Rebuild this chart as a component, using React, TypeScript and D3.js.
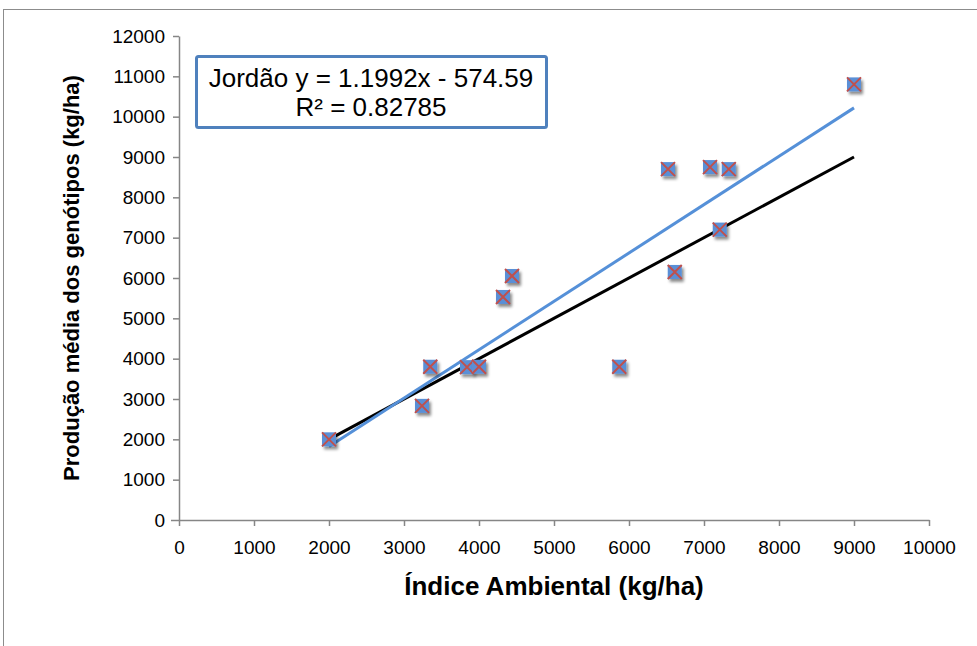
import React, { useRef, useEffect } from "react";
import * as d3 from "d3";

// Índice ambiental (x) e produção média (y), kg/ha
const indiceAmbiental = [2000, 3240, 3350, 3840, 4000, 4320, 4440, 5870, 6520, 6610, 7080, 7210, 7330, 9000];
const producaoMedia = [2000, 2830, 3800, 3790, 3800, 5530, 6050, 3800, 8700, 6150, 8750, 7200, 8700, 10800];

// linha 1:1 (preta) e tendência linear (azul)
const lineRange = [2000, 9000];
const slope = 1.1992;
const intercept = -574.59;
const legendLines = ["Jordão y = 1.1992x - 574.59", "R² = 0.82785"];

const xTicks = [0, 1000, 2000, 3000, 4000, 5000, 6000, 7000, 8000, 9000, 10000];
const yTicks = [0, 1000, 2000, 3000, 4000, 5000, 6000, 7000, 8000, 9000, 10000, 11000, 12000];

const W = 977;
const H = 646;
const FONT = "'Liberation Sans', Arial, sans-serif";

export default function App() {
  const svgRef = useRef<SVGSVGElement>(null);

  useEffect(() => {
    const svg = d3.select(svgRef.current);
    svg.selectAll("*").remove();

    const x = d3.scaleLinear().domain([0, 10000]).range([179, 929]);
    const y = d3.scaleLinear().domain([0, 12000]).range([520, 36]);
    const fmt = d3.format("d");

    const defs = svg.append("defs");
    const f = defs
      .append("filter")
      .attr("id", "shadow")
      .attr("x", "-50%")
      .attr("y", "-50%")
      .attr("width", "200%")
      .attr("height", "200%");
    f.append("feDropShadow")
      .attr("dx", 2)
      .attr("dy", 3)
      .attr("stdDeviation", 1.6)
      .attr("flood-color", "#000")
      .attr("flood-opacity", 0.45);

    // moldura externa
    svg.append("rect")
      .attr("x", 3.5)
      .attr("y", 9.5)
      .attr("width", 1000)
      .attr("height", 700)
      .attr("fill", "white")
      .attr("stroke", "#8c8c8c")
      .attr("stroke-width", 1);

    const axisColor = "#868686";

    // eixo x
    const gx = svg.append("g").attr("transform", `translate(0,${y(0)})`);
    gx.call(d3.axisBottom(x).tickValues(xTicks).tickFormat(fmt as any).tickSize(6).tickPadding(15).tickSizeOuter(0));
    gx.select(".domain").attr("stroke", axisColor).attr("stroke-width", 1.5);
    gx.selectAll(".tick line").attr("stroke", axisColor).attr("stroke-width", 1.5);
    gx.selectAll(".tick text")
      .attr("fill", "#000")
      .attr("font-family", FONT)
      .attr("font-size", 19);

    // eixo y
    const gy = svg.append("g").attr("transform", `translate(${x(0)},0)`);
    gy.call(d3.axisLeft(y).tickValues(yTicks).tickFormat(fmt as any).tickSize(6).tickPadding(8).tickSizeOuter(0));
    gy.select(".domain").attr("stroke", axisColor).attr("stroke-width", 1.5);
    gy.selectAll(".tick line").attr("stroke", axisColor).attr("stroke-width", 1.5);
    gy.selectAll(".tick text")
      .attr("fill", "#000")
      .attr("font-family", FONT)
      .attr("font-size", 19);
    gy.selectAll(".tick").filter((d: any) => d === 0).select("line").attr("x2", -8);

    // títulos
    svg.append("text")
      .attr("x", (x(0) + x(10000)) / 2)
      .attr("y", 595)
      .attr("text-anchor", "middle")
      .attr("font-family", FONT)
      .attr("font-weight", "bold")
      .attr("font-size", 26)
      .text("Índice Ambiental (kg/ha)");

    svg.append("text")
      .attr("transform", `translate(79,${(y(0) + y(12000)) / 2}) rotate(-90)`)
      .attr("text-anchor", "middle")
      .attr("font-family", FONT)
      .attr("font-weight", "bold")
      .attr("font-size", 22)
      .text("Produção média dos genótipos (kg/ha)");

    const data = indiceAmbiental.map((v, i) => ({ x: v, y: producaoMedia[i] }));

    // linhas
    const line = d3.line<number>().x((d) => x(d));
    svg.append("path")
      .attr("d", line.y((d) => y(d))(lineRange))
      .attr("fill", "none")
      .attr("stroke", "#000")
      .attr("stroke-width", 3);
    svg.append("path")
      .attr("d", line.y((d) => y(slope * d + intercept))(lineRange))
      .attr("fill", "none")
      .attr("stroke", "#5590d8")
      .attr("stroke-width", 3);

    // marcadores
    const s = 7;
    const pts = svg.append("g")
      .selectAll("g")
      .data(data)
      .join("g")
      .attr("transform", (d) => `translate(${x(d.x)},${y(d.y)})`);
    pts.append("rect")
      .attr("x", -s)
      .attr("y", -s)
      .attr("width", 2 * s)
      .attr("height", 2 * s)
      .attr("fill", "#5a8fd6")
      .attr("filter", "url(#shadow)");
    pts.append("path")
      .attr("d", `M${-s},${-s}L${s},${s}M${-s},${s}L${s},${-s}`)
      .attr("stroke", "#c0504d")
      .attr("stroke-width", 2);

    // legenda da equação
    const box = svg.append("g");
    box.append("rect")
      .attr("x", 196.5)
      .attr("y", 56.5)
      .attr("width", 350)
      .attr("height", 71)
      .attr("rx", 2)
      .attr("fill", "white")
      .attr("stroke", "#4f81bd")
      .attr("stroke-width", 3);
    box.selectAll("text")
      .data(legendLines)
      .join("text")
      .attr("x", 371)
      .attr("y", (d, i) => 87 + i * 29)
      .attr("text-anchor", "middle")
      .attr("font-family", FONT)
      .attr("font-size", 26)
      .text((d) => d);
  }, []);

  return (
    <svg
      ref={svgRef}
      width={W}
      height={H}
      style={{ position: "absolute", left: 0, top: 0, background: "white" }}
    />
  );
}
